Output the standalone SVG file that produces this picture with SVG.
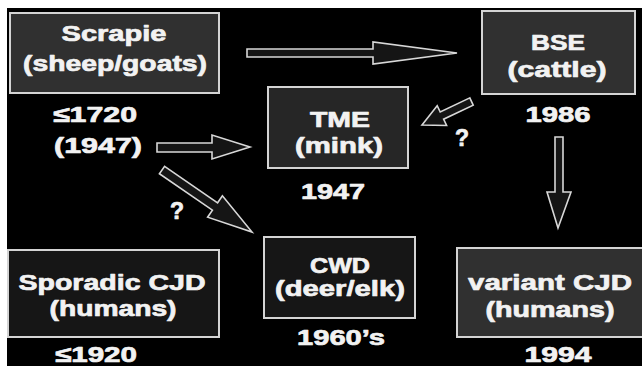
<svg xmlns="http://www.w3.org/2000/svg" width="642" height="366" viewBox="0 0 642 366">
<style>
.box{stroke:#d4d4d4;stroke-width:2}
.t{font-family:"Liberation Sans",Arial,sans-serif;font-weight:bold;font-size:22px;fill:#f2f2f2;stroke:#f2f2f2;stroke-width:0.7;stroke-linejoin:round;text-anchor:middle}
.q{font-size:23px}
.arr{fill:#151515;stroke:#d8d8d8;stroke-width:1.6;stroke-linejoin:miter}
</style>
<rect x="0" y="0" width="642" height="366" fill="#ffffff"/>
<rect x="7" y="8" width="635" height="358" fill="#000000"/>
<g id="connectors">
<polygon class="arr" points="247,49 373,49 373,42 457,53 373,64 373,57 247,57"/>
<polygon class="arr" points="157,143 212,143 212,135 250,147 212,159 212,152 157,152"/>
<polygon class="arr" points="164.6,166.3 217.6,202.8 222.4,195.8 252,232 207.6,217.2 212.4,210.2 159.4,173.7"/>
<polygon class="arr" points="469.8,97.9 440.2,112 437.2,105.7 422,125 446.6,125.5 443.6,119.2 473.2,105.1"/>
<polygon class="arr" points="555,137 563,137 563,192 571,192 558,228 547,192 555,192"/>
<text class="t q" x="462" y="146">?</text>
<text class="t q" x="177" y="219">?</text>
</g>
<g id="scrapie">
<rect class="box" x="10" y="13" width="209" height="80" fill="#303030"/>
<text class="t" x="114" y="41" textLength="105" lengthAdjust="spacingAndGlyphs">Scrapie</text>
<text class="t" x="115" y="71" textLength="184" lengthAdjust="spacingAndGlyphs">(sheep/goats)</text>
<text class="t" x="95" y="122" textLength="84" lengthAdjust="spacingAndGlyphs">≤1720</text>
<text class="t" x="98" y="153" textLength="88" lengthAdjust="spacingAndGlyphs">(1947)</text>
</g>
<g id="bse">
<rect class="box" x="482" y="11" width="153" height="83" fill="#303030"/>
<text class="t" x="558" y="50" textLength="54" lengthAdjust="spacingAndGlyphs">BSE</text>
<text class="t" x="557" y="77" textLength="99" lengthAdjust="spacingAndGlyphs">(cattle)</text>
<text class="t" x="558" y="122" textLength="65" lengthAdjust="spacingAndGlyphs">1986</text>
</g>
<g id="tme">
<rect class="box" x="268" y="87" width="140" height="81" fill="#262626"/>
<text class="t" x="340" y="127" textLength="60" lengthAdjust="spacingAndGlyphs">TME</text>
<text class="t" x="339" y="153" textLength="88" lengthAdjust="spacingAndGlyphs">(mink)</text>
<text class="t" x="333" y="199" textLength="64" lengthAdjust="spacingAndGlyphs">1947</text>
</g>
<g id="cwd">
<rect class="box" x="264" y="237" width="151" height="81" fill="#161616"/>
<text class="t" x="340" y="273" textLength="60" lengthAdjust="spacingAndGlyphs">CWD</text>
<text class="t" x="340" y="296" textLength="130" lengthAdjust="spacingAndGlyphs">(deer/elk)</text>
<text class="t" x="341" y="345" textLength="88" lengthAdjust="spacingAndGlyphs">1960’s</text>
</g>
<g id="sporadic">
<rect class="box" x="8" y="250" width="211" height="87" fill="#161616"/>
<text class="t" x="112" y="290" textLength="187" lengthAdjust="spacingAndGlyphs">Sporadic CJD</text>
<text class="t" x="113" y="316" textLength="127" lengthAdjust="spacingAndGlyphs">(humans)</text>
<text class="t" x="96" y="362" textLength="82" lengthAdjust="spacingAndGlyphs">≤1920</text>
</g>
<g id="variant">
<rect class="box" x="457" y="248" width="190" height="89" fill="#303030"/>
<text class="t" x="550" y="290" textLength="164" lengthAdjust="spacingAndGlyphs">variant CJD</text>
<text class="t" x="550" y="317" textLength="129" lengthAdjust="spacingAndGlyphs">(humans)</text>
<text class="t" x="558" y="362" textLength="67" lengthAdjust="spacingAndGlyphs">1994</text>
</g>
</svg>
